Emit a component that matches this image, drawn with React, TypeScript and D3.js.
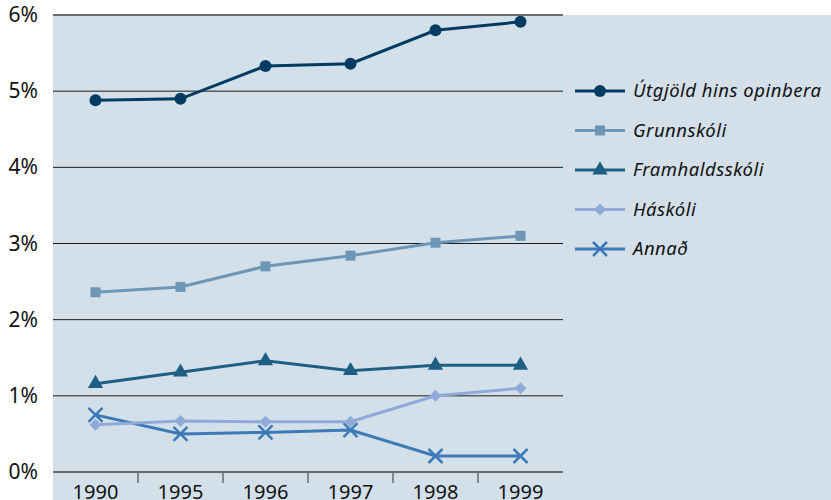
import React from "react";
import * as d3 from "d3";

const years = ["1990", "1995", "1996", "1997", "1998", "1999"];
const utgjold = [4.88, 4.9, 5.33, 5.36, 5.8, 5.91];
const grunnskoli = [2.36, 2.43, 2.7, 2.84, 3.01, 3.1];
const framhaldsskoli = [1.16, 1.31, 1.46, 1.33, 1.4, 1.4];
const haskoli = [0.62, 0.67, 0.66, 0.66, 1.0, 1.1];
const annad = [0.75, 0.5, 0.52, 0.55, 0.21, 0.21];
const yTicks = [0, 1, 2, 3, 4, 5, 6];

const series = [
	{name: "Útgjöld hins opinbera", values: utgjold, color: "#003b62", marker: "circle"},
	{name: "Grunnskóli", values: grunnskoli, color: "#6d96b6", marker: "square"},
	{name: "Framhaldsskóli", values: framhaldsskoli, color: "#1d5e84", marker: "triangle"},
	{name: "Háskóli", values: haskoli, color: "#8faad8", marker: "diamond"},
	{name: "Annað", values: annad, color: "#3b7ab6", marker: "cross"},
];

const W = 831;
const H = 500;
const margin = {left: 53, top: 15, right: 268, bottom: 28};
const font = "'Noto Sans', 'Open Sans', sans-serif";

const Marker: React.FC<{type: string; x: number; y: number; color: string}> = ({type, x, y, color}) => {
	if (type === "circle") return <circle cx={x} cy={y} r={6} fill={color} />;
	if (type === "square") return <rect x={x - 5} y={y - 5} width={10} height={10} fill={color} />;
	if (type === "triangle") {
		const p = d3.symbol(d3.symbolTriangle, 100)();
		return <path d={p || ""} transform={`translate(${x},${y})`} fill={color} />;
	}
	if (type === "diamond") return <path d={`M${x},${y - 6}L${x + 6},${y}L${x},${y + 6}L${x - 6},${y}Z`} fill={color} />;
	return (
		<path
			d={`M${x - 7},${y - 7}L${x + 7},${y + 7}M${x - 7},${y + 7}L${x + 7},${y - 7}`}
			stroke={color}
			strokeWidth={2.5}
			fill="none"
		/>
	);
};

export default function App() {
	const x = d3.scaleBand().domain(years).range([margin.left, W - margin.right]).padding(0);
	const y = d3.scaleLinear().domain([0, 6]).range([H - margin.bottom, margin.top]);
	const cx = (d: string) => (x(d) || 0) + x.bandwidth() / 2;
	const line = d3
		.line<number>()
		.x((_, i) => cx(years[i]))
		.y((v) => y(v));

	const x0 = margin.left;
	const x1 = W - margin.right;

	return (
		<svg width={W} height={H} style={{position: "absolute", left: 0, top: 0, background: "#fff"}} fontFamily={font}>
			<rect x={x0} y={margin.top} width={W - x0} height={H - margin.top} fill="#d4e0e9" />
			{/* gridlines */}
			{yTicks.map((t) => {
				const edge = t === 0 || t === 6;
				return (
					<line
						key={t}
						x1={x0}
						x2={x1}
						y1={y(t)}
						y2={y(t)}
						stroke={edge ? "#6b6b6b" : "#1a1a1a"}
						strokeWidth={edge ? 2 : 1}
					/>
				);
			})}
			{yTicks.map((t) => (
				<text key={t} x={38} y={y(t) + 7} textAnchor="end" fontSize={21} fill="#111">
					{t}%
				</text>
			))}
			{/* x ticks between categories */}
			{years.slice(1).map((yr) => (
				<line key={yr} x1={x(yr)} x2={x(yr)} y1={y(0) + 1} y2={y(0) + 11} stroke="#333" strokeWidth={1} />
			))}
			{years.map((yr) => (
				<text key={yr} x={cx(yr)} y={H - 1} textAnchor="middle" fontSize={20} fill="#111">
					{yr}
				</text>
			))}
			{/* series, drawn bottom-up so the top ones sit above */}
			{series
				.slice()
				.reverse()
				.map((s) => (
					<g key={s.name}>
						<path d={line(s.values) || ""} fill="none" stroke={s.color} strokeWidth={3} />
						{s.values.map((v, i) => (
							<Marker key={i} type={s.marker} x={cx(years[i])} y={y(v)} color={s.color} />
						))}
					</g>
				))}
			{/* legend */}
			{series.map((s, i) => {
				const ly = 91 + i * 39.5;
				return (
					<g key={s.name}>
						<line x1={575} x2={625} y1={ly} y2={ly} stroke={s.color} strokeWidth={3} />
						<Marker type={s.marker} x={600} y={ly} color={s.color} />
						<text x={633} y={ly + 6} fontSize={18.5} letterSpacing={0.5} fontStyle="italic" fill="#111">
							{s.name}
						</text>
					</g>
				);
			})}
		</svg>
	);
}
